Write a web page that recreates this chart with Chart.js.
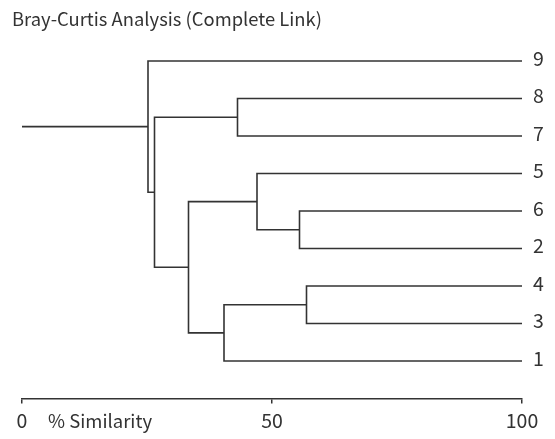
<!DOCTYPE html>
<html>
<head>
<meta charset="utf-8">
<script src="https://cdn.jsdelivr.net/npm/chart.js@4.4.1/dist/chart.umd.min.js"></script>
<style>
body{margin:0;background:#fff;}
#box{width:555px;height:439px;}
</style>
</head>
<body>
<div id="box"><canvas id="myChart"></canvas></div>
<script>
//leaf labels, top to bottom
var leaves=["9","8","7","5","6","2","4","3","1"];
//merges: two children (leaf label or merge name) and % similarity
var mergeNames=["A","B","C","D","E","F","G","H"];
var mergeLeft=["6","4","8","5","B","D","C","9"];
var mergeRight=["2","3","7","A","1","E","F","G"];
var mergeSim=[55.5,56.9,43.1,47.0,40.4,33.3,26.5,25.2];
var xTicks=[0,50,100];
var axisTitle="% Similarity";
var chartTitle="Bray-Curtis Analysis (Complete Link)";

var lineColor="#333";
var fontName='"Noto Sans CJK JP", "Noto Sans", sans-serif';

//node positions, leaves sit at 100%
var pos={};
for(var i=0;i<leaves.length;i++){
    pos[leaves[i]]={x:100,y:leaves.length-1-i};
}
var datasets=[];
for(var i=0;i<mergeNames.length;i++){
    var a=pos[mergeLeft[i]];
    var b=pos[mergeRight[i]];
    var h=mergeSim[i];
    pos[mergeNames[i]]={x:h,y:(a.y+b.y)/2};
    datasets.push({
        data:[{x:a.x,y:a.y},{x:h,y:a.y},{x:h,y:b.y},{x:b.x,y:b.y}]
    });
}
//stub from the root to 0
var root=pos[mergeNames[mergeNames.length-1]];
datasets.push({data:[{x:0,y:root.y},{x:root.x,y:root.y}]});
datasets.forEach(function(d){
    d.showLine=true;
    d.borderColor=lineColor;
    d.borderWidth=1.6;
    d.pointRadius=0;
    d.pointHoverRadius=0;
    d.tension=0;
});

var axisTitlePlugin={
    id:"axisTitle",
    afterDraw:function(chart){
        var ctx=chart.ctx;
        var sx=chart.scales.x;
        ctx.save();
        ctx.font="18.5px "+fontName;
        ctx.fillStyle=lineColor;
        ctx.textAlign="left";
        ctx.textBaseline="alphabetic";
        ctx.fillText(axisTitle,sx.getPixelForValue(0)+26,428);
        ctx.restore();
    }
};

var chart=new Chart(document.getElementById("myChart"),{
    type:"scatter",
    data:{datasets:datasets},
    plugins:[axisTitlePlugin],
    options:{
        responsive:true,
        maintainAspectRatio:false,
        animation:false,
        layout:{padding:{left:12,right:0,top:0,bottom:0}},
        plugins:{
            legend:{display:false},
            tooltip:{enabled:false},
            title:{
                display:true,
                text:chartTitle,
                align:"start",
                color:lineColor,
                font:{family:fontName,size:18.4,weight:"normal"},
                padding:{top:8.1,bottom:8.3}
            }
        },
        scales:{
            x:{
                type:"linear",
                min:0,max:100,
                afterBuildTicks:function(axis){
                    axis.ticks=xTicks.map(function(v){return {value:v};});
                },
                afterFit:function(axis){axis.height=40.5;},
                border:{display:true,color:lineColor,width:1.5},
                grid:{drawOnChartArea:false,drawTicks:true,tickLength:5,color:lineColor,lineWidth:1.5},
                ticks:{color:lineColor,padding:5,maxRotation:0,font:{family:fontName,size:19.5}}
            },
            y:{
                type:"linear",
                position:"right",
                min:-1,max:8.6,
                afterBuildTicks:function(axis){
                    axis.ticks=leaves.map(function(l,i){return {value:leaves.length-1-i};});
                },
                afterFit:function(axis){axis.width=33;},
                border:{display:false},
                grid:{display:false,drawTicks:false},
                ticks:{
                    color:lineColor,
                    padding:11,
                    labelOffset:-2.5,
                    font:{family:fontName,size:19.5},
                    callback:function(v){return leaves[leaves.length-1-v];}
                }
            },
            yl:{
                type:"linear",
                position:"left",
                afterFit:function(axis){axis.width=10;},
                border:{display:false},
                grid:{display:false,drawTicks:false},
                ticks:{display:false}
            }
        }
    }
});
</script>
</body>
</html>
